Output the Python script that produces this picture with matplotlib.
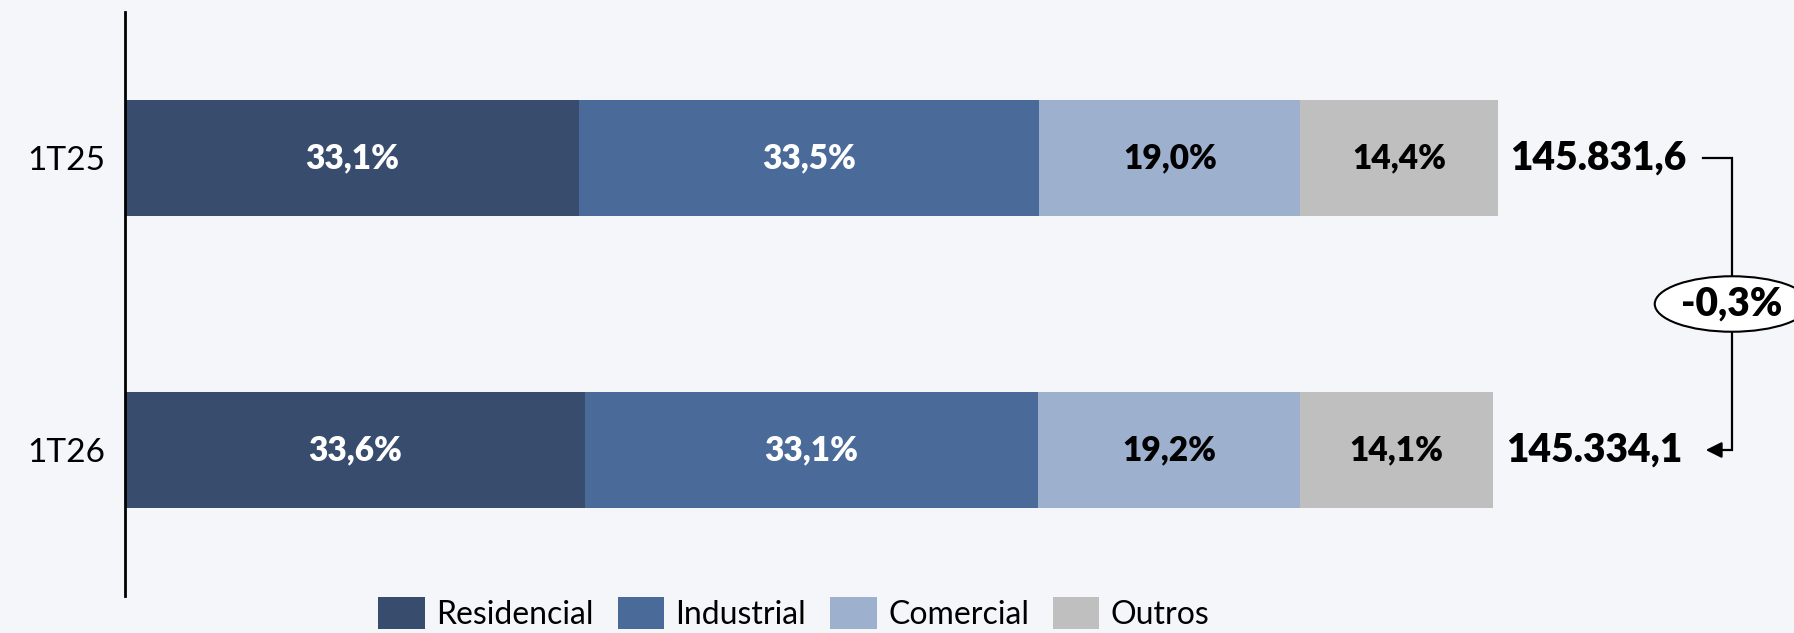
import matplotlib
matplotlib.use('Agg')
import matplotlib.pyplot as plt
from matplotlib.patches import Ellipse

# data
periods = ['1T25', '1T26']
totals = [145831.6, 145334.1]
segments = ['Residencial', 'Industrial', 'Comercial', 'Outros']
residencial = [33.1, 33.6]
industrial = [33.5, 33.1]
comercial = [19.0, 19.2]
outros = [14.4, 14.1]
change_label = '-0,3%'

colors = ['#384d6e', '#4a6b9a', '#9db0ce', '#bfbfbf']
text_colors = ['white', 'white', 'black', 'black']
bg = '#f5f6fa'

plt.rcParams['font.family'] = ['Lato', 'DejaVu Sans']

def pct(v):
    return ('%.1f' % v).replace('.', ',') + '%'

def num(v):
    return '{:,.1f}'.format(v).replace(',', 'X').replace('.', ',').replace('X', '.')

fig = plt.figure(figsize=(17.94, 6.33), dpi=100, facecolor=bg)
ax = fig.add_axes([125 / 1794, 1 - 596 / 633, 1 - 125 / 1794, 584 / 633])
ax.set_facecolor(bg)

ypos = [1, 0]  # 1T25 on top
lefts = [0.0, 0.0]
for seg, vals, c, tc in zip(segments, [residencial, industrial, comercial, outros], colors, text_colors):
    widths = [t * v / 100 for t, v in zip(totals, vals)]
    ax.barh(ypos, widths, left=lefts, height=0.4, color=c, label=seg)
    for y, l, w, v in zip(ypos, lefts, widths, vals):
        ax.text(l + w / 2, y, pct(v), ha='center', va='center', color=tc,
                fontsize=24, fontweight='heavy')
    lefts = [l + w for l, w in zip(lefts, widths)]

# totals at the end of each bar
for y, end, t in zip(ypos, lefts, totals):
    ax.annotate(num(t), xy=(end, y), xytext=(9, 0), textcoords='offset points',
                ha='left', va='center', fontsize=28, fontweight='heavy', color='black')

# connector with the variation
x_start = 167600
x_conn = 170680
ax.plot([x_start, x_conn, x_conn, x_start + 1500], [1, 1, 0, 0], color='black', lw=1.6,
        solid_joinstyle='miter', zorder=3)
ax.annotate('', xy=(x_start, 0), xytext=(x_start + 1600, 0),
            arrowprops=dict(arrowstyle='-|>', color='black', lw=1.6, mutation_scale=24),
            zorder=3)
ell = Ellipse((x_conn, 0.5), width=16400, height=0.19, facecolor='white',
              edgecolor='black', lw=1.5, zorder=4, clip_on=False)
ax.add_patch(ell)
ax.text(x_conn, 0.5, change_label, ha='center', va='center', fontsize=28,
        fontweight='heavy', zorder=5)

ax.set_xlim(0, 177270)
ax.set_ylim(-0.5, 1.5)
ax.set_yticks(ypos)
ax.set_yticklabels(periods, fontsize=24)
ax.set_xticks([])
ax.tick_params(axis='y', length=0, pad=14)
for s in ['top', 'right', 'bottom']:
    ax.spines[s].set_visible(False)
ax.spines['left'].set_linewidth(2)
ax.spines['left'].set_color('black')

fig.legend(loc='upper center', bbox_to_anchor=(794 / 1794, 1 - 597 / 633), ncol=4,
           frameon=False, fontsize=23, handlelength=1.45, handleheight=1.15,
           handletextpad=0.36, columnspacing=0.75, borderpad=0, borderaxespad=0)

fig.savefig('out.png', dpi=100, facecolor=bg)
